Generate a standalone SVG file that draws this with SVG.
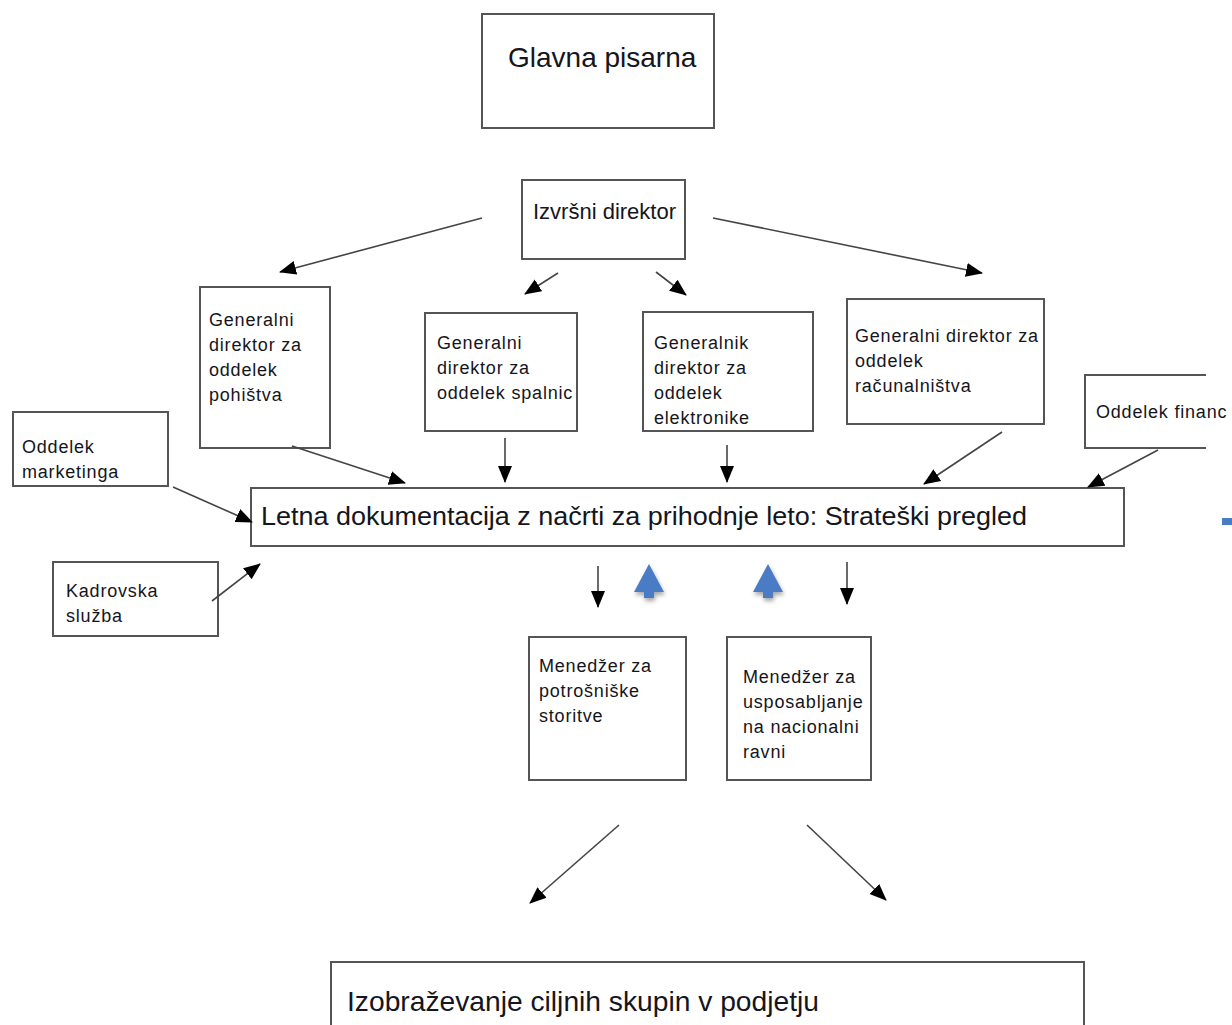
<svg xmlns="http://www.w3.org/2000/svg" width="1232" height="1025" viewBox="0 0 1232 1025">
<style>
.box{fill:#fff;stroke:#555;stroke-width:2}
.t{font-family:"Liberation Sans",Arial,sans-serif;font-size:18px;letter-spacing:0.8px;fill:#151520}
.big{font-family:"Liberation Sans",Arial,sans-serif;fill:#151520}
.c{stroke:#444;stroke-width:1.6;fill:none;marker-end:url(#ah)}
.blue{fill:#4a7cc5;filter:url(#sh)}
</style>
<defs>
<marker id="ah" markerUnits="userSpaceOnUse" markerWidth="18" markerHeight="16" refX="16" refY="8" orient="auto">
<path d="M0,1 L17,8 L0,15 Z" fill="#000"/>
</marker>
<filter id="sh" x="-50%" y="-50%" width="200%" height="200%">
<feDropShadow dx="1" dy="3" stdDeviation="2" flood-color="#000" flood-opacity="0.35"/>
</filter>
</defs>

<g id="glavna">
<rect class="box" x="482" y="14" width="232" height="114"/>
<text class="big" x="508" y="67" font-size="28">Glavna pisarna</text>
</g>
<g id="izvrsni">
<rect class="box" x="522" y="180" width="163" height="79"/>
<text class="big" x="533" y="219" font-size="22">Izvršni direktor</text>
</g>
<g id="pohistvo">
<rect class="box" x="200" y="287" width="130" height="161"/>
<text class="t" x="209" y="326">Generalni</text>
<text class="t" x="209" y="351">direktor za</text>
<text class="t" x="209" y="376">oddelek</text>
<text class="t" x="209" y="401">pohištva</text>
</g>
<g id="spalnice">
<rect class="box" x="425" y="313" width="152" height="118"/>
<text class="t" x="437" y="349">Generalni</text>
<text class="t" x="437" y="374">direktor za</text>
<text class="t" x="437" y="399">oddelek spalnic</text>
</g>
<g id="elektronika">
<rect class="box" x="643" y="312" width="170" height="119"/>
<text class="t" x="654" y="349">Generalnik</text>
<text class="t" x="654" y="374">direktor za</text>
<text class="t" x="654" y="399">oddelek</text>
<text class="t" x="654" y="424">elektronike</text>
</g>
<g id="racunalnistvo">
<rect class="box" x="847" y="299" width="197" height="125"/>
<text class="t" x="855" y="342">Generalni direktor za</text>
<text class="t" x="855" y="367">oddelek</text>
<text class="t" x="855" y="392">računalništva</text>
</g>
<g id="finance">
<path d="M1206,375 H1085 V448 H1206" fill="#fff" stroke="#555" stroke-width="2"/>
<text class="t" x="1096" y="418">Oddelek financ</text>
</g>
<g id="marketing">
<rect class="box" x="13" y="412" width="155" height="74"/>
<text class="t" x="22" y="453">Oddelek</text>
<text class="t" x="22" y="478">marketinga</text>
</g>
<g id="kadrovska">
<rect class="box" x="53" y="562" width="165" height="74"/>
<text class="t" x="66" y="597">Kadrovska</text>
<text class="t" x="66" y="622">služba</text>
</g>
<g id="letna">
<rect class="box" x="251" y="488" width="873" height="58"/>
<text class="big" x="261" y="525" font-size="26" textLength="766" lengthAdjust="spacingAndGlyphs">Letna dokumentacija z načrti za prihodnje leto: Strateški pregled</text>
</g>
<g id="potrosniske">
<rect class="box" x="529" y="637" width="157" height="143"/>
<text class="t" x="539" y="672" letter-spacing="1">Menedžer za</text>
<text class="t" x="539" y="697" letter-spacing="1">potrošniške</text>
<text class="t" x="539" y="722" letter-spacing="1">storitve</text>
</g>
<g id="usposabljanje">
<rect class="box" x="727" y="637" width="144" height="143"/>
<text class="t" x="743" y="683" letter-spacing="1">Menedžer za</text>
<text class="t" x="743" y="708" letter-spacing="1">usposabljanje</text>
<text class="t" x="743" y="733" letter-spacing="1">na nacionalni</text>
<text class="t" x="743" y="758" letter-spacing="1">ravni</text>
</g>
<g id="izobrazevanje">
<rect class="box" x="331" y="962" width="753" height="80"/>
<text class="big" x="347" y="1011" font-size="28" textLength="472" lengthAdjust="spacingAndGlyphs">Izobraževanje ciljnih skupin v podjetju</text>
</g>

<g id="connectors">
<line class="c" x1="482" y1="218" x2="280" y2="272"/>
<line class="c" x1="558" y1="273" x2="525" y2="294"/>
<line class="c" x1="656" y1="272" x2="686" y2="295"/>
<line class="c" x1="713" y1="218" x2="982" y2="273"/>
<line class="c" x1="292" y1="446" x2="405" y2="483"/>
<line class="c" x1="505" y1="438" x2="505" y2="482"/>
<line class="c" x1="727" y1="445" x2="727" y2="482"/>
<line class="c" x1="1002" y1="432" x2="924" y2="484"/>
<line class="c" x1="1158" y1="450" x2="1088" y2="487"/>
<line class="c" x1="173" y1="487" x2="252" y2="522"/>
<line class="c" x1="212" y1="601" x2="260" y2="564"/>
<line class="c" x1="598" y1="566" x2="598" y2="607"/>
<line class="c" x1="847" y1="562" x2="847" y2="604"/>
<line class="c" x1="619" y1="825" x2="530" y2="903"/>
<line class="c" x1="807" y1="825" x2="886" y2="900"/>
<path class="blue" d="M649,564 L664,592 L654,592 L654,598 L644,598 L644,592 L634,592 Z"/>
<path class="blue" d="M768,564 L783,592 L773,592 L773,598 L763,598 L763,592 L753,592 Z"/>
</g>
<rect x="1222" y="518" width="10" height="7" fill="#4a7cc5"/>
</svg>
